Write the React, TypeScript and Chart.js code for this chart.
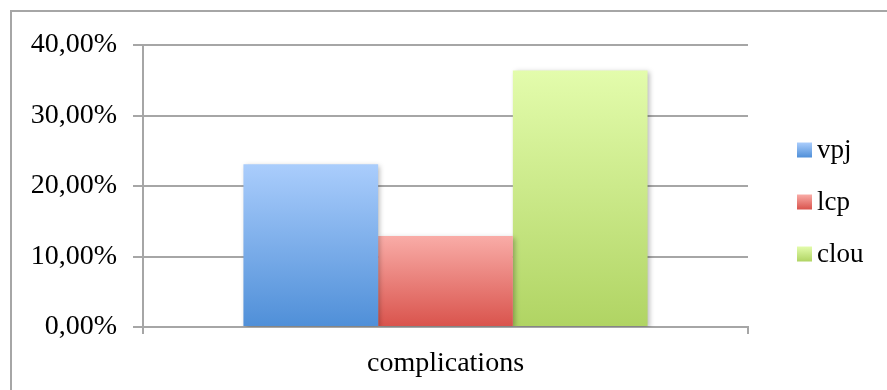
import React, { useEffect, useRef } from "react";
import { Chart, registerables } from "chart.js";

Chart.register(...registerables);

const categories = ["complications"];
const seriesNames = ["vpj", "lcp", "clou"];
const vpjValues = [23.1];
const lcpValues = [12.9];
const clouValues = [36.4];
const yTicks = [0, 10, 20, 30, 40];

const gradients: [string, string][] = [
  ["#aacdfc", "#4f8fd8"],
  ["#f9aca7", "#d9534c"],
  ["#e3fcac", "#b0d463"],
];

const FONT = "'Liberation Serif', serif";
const GRID = "#a6a6a6";

export default function App() {
  const ref = useRef<HTMLCanvasElement | null>(null);

  useEffect(() => {
    if (!ref.current) return;
    const makeBg = (i: number) => (ctx: any) => {
      const chart = ctx.chart;
      const [c1, c2] = gradients[i];
      if (!chart.chartArea || ctx.type !== "data" || !chart.scales.y) return c2;
      const v = ctx.parsed ? ctx.parsed.y : ctx.raw;
      const top = chart.scales.y.getPixelForValue(v);
      const bot = chart.scales.y.getPixelForValue(0);
      if (!isFinite(top) || !isFinite(bot) || top === bot) return c2;
      const g = chart.ctx.createLinearGradient(0, top, 0, bot);
      g.addColorStop(0, c1);
      g.addColorStop(1, c2);
      return g;
    };

    const shadowPlugin = {
      id: "barShadow",
      beforeDatasetsDraw(chart: any) {
        const c = chart.ctx;
        c.save();
        c.shadowColor = "rgba(0,0,0,0.28)";
        c.shadowBlur = 5;
        c.shadowOffsetX = 2;
        c.shadowOffsetY = 2;
      },
      afterDatasetsDraw(chart: any) {
        chart.ctx.restore();
      },
    };

    const legendPlugin = {
      id: "sideLegend",
      afterDraw(chart: any) {
        const c = chart.ctx;
        c.save();
        const x = 797;
        const centers = [150, 202, 254];
        chart.data.datasets.forEach((ds: any, i: number) => {
          const cy = centers[i];
          const [c1, c2] = gradients[i];
          const g = c.createLinearGradient(0, cy - 7.5, 0, cy + 7.5);
          g.addColorStop(0, c1);
          g.addColorStop(1, c2);
          c.fillStyle = g;
          c.fillRect(x, cy - 7.5, 15, 15);
          c.fillStyle = "#000";
          c.font = "27px " + FONT;
          c.textAlign = "left";
          c.textBaseline = "middle";
          c.fillText(ds.label, x + 20, cy + 1);
        });
        c.restore();
      },
    };

    const data = [vpjValues, lcpValues, clouValues];
    const chart = new Chart(ref.current, {
      type: "bar",
      data: {
        labels: categories,
        datasets: seriesNames.map((name, i) => ({
          label: name,
          data: data[i],
          backgroundColor: makeBg(i),
          borderWidth: 0,
          categoryPercentage: 0.668,
          barPercentage: 1.0,
        })),
      },
      options: {
        animation: false,
        responsive: false,
        maintainAspectRatio: false,
        layout: { padding: { left: 0, top: 45, right: 139, bottom: 0 } },
        plugins: {
          legend: { display: false },
          tooltip: { enabled: false },
        },
        scales: {
          x: {
            grid: {
              display: true,
              drawOnChartArea: false,
              drawTicks: true,
              tickLength: 7,
              color: GRID,
              lineWidth: 2,
            },
            border: { display: true, color: GRID, width: 2 },
            ticks: {
              color: "#000",
              font: { family: FONT, size: 28 },
              padding: 13,
            },
            afterFit: (s: any) => {
              s.height = 63;
            },
          },
          y: {
            min: 0,
            max: 40,
            afterBuildTicks: (s: any) => {
              s.ticks = yTicks.map((v) => ({ value: v }));
            },
            grid: {
              color: GRID,
              lineWidth: 2,
              drawTicks: true,
              tickLength: 10,
            },
            border: { display: true, color: GRID, width: 2 },
            ticks: {
              color: "#000",
              font: { family: FONT, size: 28 },
              padding: 16,
              callback: (v: any) => Number(v).toFixed(2).replace(".", ",") + "%",
            },
            afterFit: (s: any) => {
              s.width = 143;
            },
          },
        },
      },
      plugins: [shadowPlugin, legendPlugin],
    });
    return () => chart.destroy();
  }, []);

  return (
    <div
      style={{
        position: "absolute",
        left: 0,
        top: 0,
        width: 887,
        height: 390,
        overflow: "hidden",
        background: "#fff",
      }}
    >
      <div
        style={{
          position: "absolute",
          left: 10,
          top: 10,
          width: 1000,
          height: 1000,
          borderLeft: "2px solid " + GRID,
          borderTop: "2px solid " + GRID,
        }}
      />
      <canvas
        ref={ref}
        width={887}
        height={390}
        style={{ position: "absolute", left: 0, top: 0, width: 887, height: 390 }}
      />
    </div>
  );
}
